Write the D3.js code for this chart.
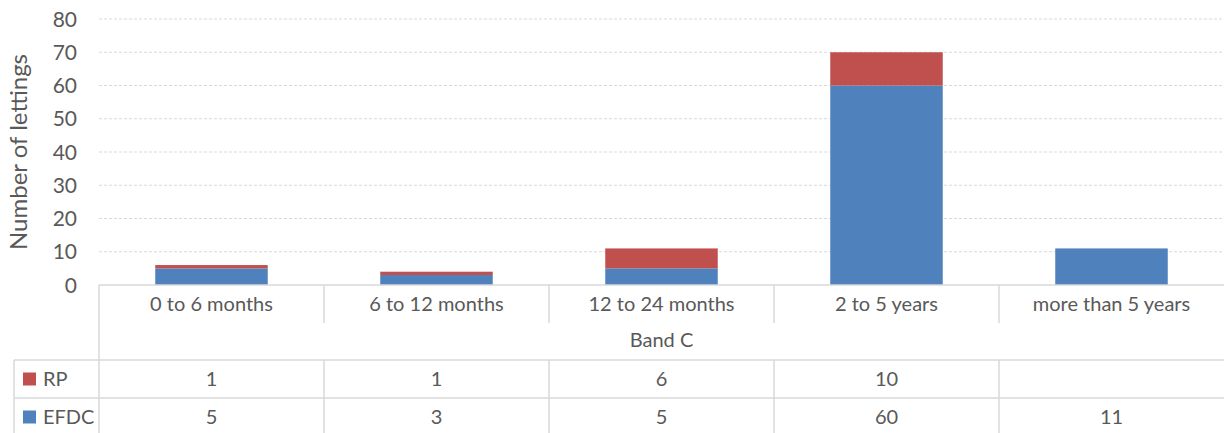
<!DOCTYPE html>
<head>
<meta charset="utf-8">
<style>
    body { margin: 0; background: #fff; }
    text { font-family: Lato, "Open Sans", sans-serif; fill: #595959; }
    .grid line { stroke: #d9d9d9; stroke-width: 1.2px; stroke-dasharray: 3,2; }
    .rule { stroke: #d9d9d9; stroke-width: 1.5px; }
</style>
<title>Band C lettings</title>
</head>
<body>
<script src="https://d3js.org/d3.v7.min.js"></script>
<script>
    const categories = ['0 to 6 months', '6 to 12 months', '12 to 24 months', '2 to 5 years', 'more than 5 years'];
    const efdc = [5, 3, 5, 60, 11];
    const rp = [1, 1, 6, 10, null];
    const yTicks = [0, 10, 20, 30, 40, 50, 60, 70, 80];
    const groupLabel = 'Band C';
    const series = [
        { key: 'RP', values: rp, color: '#c0504d' },
        { key: 'EFDC', values: efdc, color: '#4f81bd' }
    ];

    const W = 1224, H = 433;
    const plotLeft = 99, plotRight = 1224, plotTop = 19, base = 285;
    const fs = '20px';

    const svg = d3.select('body').append('svg')
        .attr('width', W)
        .attr('height', H);

    const x = d3.scaleBand().domain(categories)
        .range([plotLeft, plotRight])
        .paddingInner(0.5)
        .paddingOuter(0.25);
    const y = d3.scaleLinear().domain([0, 80]).range([base, plotTop]);

    // gridlines
    svg.append('g').attr('class', 'grid')
        .selectAll('line')
        .data(yTicks.filter(d => d > 0))
        .join('line')
        .attr('x1', plotLeft).attr('x2', plotRight)
        .attr('y1', d => y(d)).attr('y2', d => y(d));

    // y tick labels
    svg.append('g').selectAll('text')
        .data(yTicks)
        .join('text')
        .attr('x', 77)
        .attr('y', d => y(d))
        .attr('dy', '0.36em')
        .attr('text-anchor', 'end')
        .attr('font-size', '21px')
        .text(d => d);

    svg.append('text')
        .attr('transform', 'translate(27,' + ((plotTop + base) / 2) + ') rotate(-90)')
        .attr('text-anchor', 'middle')
        .attr('font-size', '24px')
        .text('Number of lettings');

    // stacked bars
    const rows = categories.map((c, i) => ({ cat: c, EFDC: efdc[i], RP: rp[i] || 0 }));
    const stack = d3.stack().keys(['EFDC', 'RP'])(rows);
    const colorOf = { EFDC: '#4f81bd', RP: '#c0504d' };

    svg.append('g').selectAll('g')
        .data(stack)
        .join('g')
        .attr('fill', d => colorOf[d.key])
        .selectAll('rect')
        .data(d => d)
        .join('rect')
        .attr('x', d => x(d.data.cat))
        .attr('width', x.bandwidth())
        .attr('y', d => y(d[1]))
        .attr('height', d => y(d[0]) - y(d[1]));

    // data table
    const bounds = categories.map(c => x(c) - x.step() * x.paddingInner() / 2)
        .concat([plotRight]);
    const rowBand = 360, rowMid = 398, tableLeft = 14;

    const g = svg.append('g');
    g.append('line').attr('class', 'rule')
        .attr('x1', plotLeft).attr('x2', plotRight).attr('y1', base).attr('y2', base);
    g.selectAll('.sep')
        .data(bounds.slice(1, -1))
        .join('line').attr('class', 'rule')
        .attr('x1', d => d).attr('x2', d => d)
        .attr('y1', base).attr('y2', 323);
    g.selectAll('.sep2')
        .data(bounds.slice(0, -1))
        .join('line').attr('class', 'rule')
        .attr('x1', d => d).attr('x2', d => d)
        .attr('y1', (d, i) => i === 0 ? base : rowBand).attr('y2', H);
    g.append('line').attr('class', 'rule')
        .attr('x1', tableLeft).attr('x2', tableLeft).attr('y1', rowBand).attr('y2', H);
    [rowBand, rowMid].forEach(yy => {
        g.append('line').attr('class', 'rule')
            .attr('x1', tableLeft).attr('x2', plotRight).attr('y1', yy).attr('y2', yy);
    });

    g.selectAll('.cat')
        .data(categories)
        .join('text')
        .attr('x', d => x(d) + x.bandwidth() / 2)
        .attr('y', 304)
        .attr('dy', '0.36em')
        .attr('text-anchor', 'middle')
        .attr('font-size', fs)
        .text(d => d);

    g.append('text')
        .attr('x', (plotLeft + plotRight) / 2)
        .attr('y', 340)
        .attr('dy', '0.36em')
        .attr('text-anchor', 'middle')
        .attr('font-size', fs)
        .text(groupLabel);

    const rowY = [379, 417];
    series.forEach((s, r) => {
        g.append('rect')
            .attr('x', 23).attr('y', rowY[r] - 6.5)
            .attr('width', 13).attr('height', 13)
            .attr('fill', s.color);
        g.append('text')
            .attr('x', 43).attr('y', rowY[r])
            .attr('dy', '0.36em')
            .attr('font-size', fs)
            .text(s.key);
        g.selectAll('.v' + r)
            .data(s.values)
            .join('text')
            .attr('x', (d, i) => x(categories[i]) + x.bandwidth() / 2)
            .attr('y', rowY[r])
            .attr('dy', '0.36em')
            .attr('text-anchor', 'middle')
            .attr('font-size', fs)
            .text(d => d == null ? '' : d);
    });
</script>
</body>
